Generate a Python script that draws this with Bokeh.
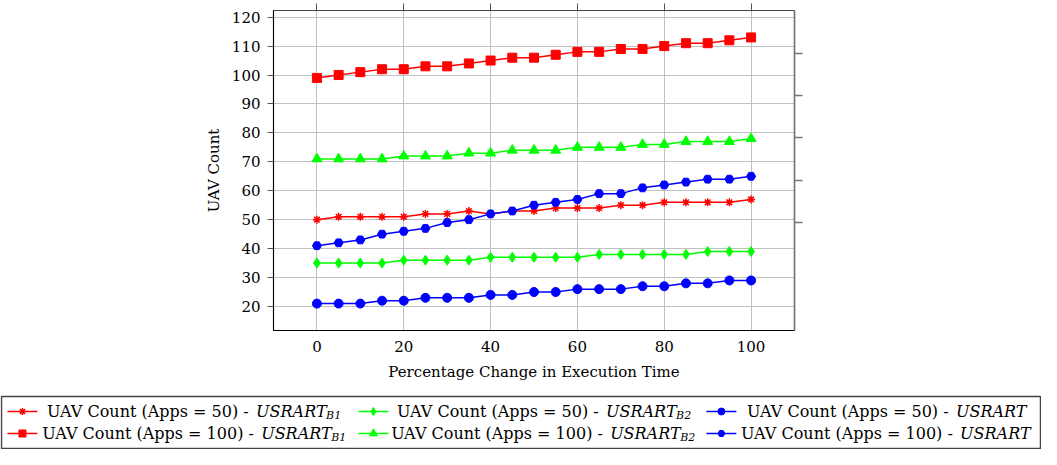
from bokeh.plotting import figure
from bokeh.models import Range1d, LinearAxis, FixedTicker, CustomJSTickFormatter
from bokeh.layouts import column
from bokeh.core.properties import value
from bokeh.embed import file_html
from bokeh.resources import INLINE

# ---------------- data ----------------
x_pct = [0, 5, 10, 15, 20, 25, 30, 35, 40, 45, 50, 55, 60, 65, 70, 75, 80, 85, 90, 95, 100]
uav50_b1 = [50, 51, 51, 51, 51, 52, 52, 53, 52, 53, 53, 54, 54, 54, 55, 55, 56, 56, 56, 56, 57]
uav50_b2 = [35, 35, 35, 35, 36, 36, 36, 36, 37, 37, 37, 37, 37, 38, 38, 38, 38, 38, 39, 39, 39]
uav50_usrart = [21, 21, 21, 22, 22, 23, 23, 23, 24, 24, 25, 25, 26, 26, 26, 27, 27, 28, 28, 29, 29]
uav100_b1 = [99, 100, 101, 102, 102, 103, 103, 104, 105, 106, 106, 107, 108, 108, 109, 109, 110, 111, 111, 112, 113]
uav100_b2 = [71, 71, 71, 71, 72, 72, 72, 73, 73, 74, 74, 74, 75, 75, 75, 76, 76, 77, 77, 77, 78]
uav100_usrart = [41, 42, 43, 45, 46, 47, 49, 50, 52, 53, 55, 56, 57, 59, 59, 61, 62, 63, 64, 64, 65]

x_ticks = [0, 20, 40, 60, 80, 100]
y_ticks = [20, 30, 40, 50, 60, 70, 80, 90, 100, 110, 120]

x_label = "Percentage Change in Execution Time"
y_label = "UAV Count"

label_main = ["UAV Count (Apps = 50) - ", "UAV Count (Apps = 100) - "]
label_ital = "USRART"
label_subs = ["B1", "B2", ""]

RED, GREEN, BLUE = "#ff0000", "#00ff00", "#0000ff"
FONT = "DejaVu Serif"

# (series, color, marker, size, row, col)
series = [
    (uav50_b1, RED, "asterisk", 8, 0, 0),
    (uav50_b2, GREEN, "diamond", 10, 0, 1),
    (uav50_usrart, BLUE, "circle", 9, 0, 2),
    (uav100_b1, RED, "square", 9, 1, 0),
    (uav100_b2, GREEN, "triangle", 10, 1, 1),
    (uav100_usrart, BLUE, "hex", 9, 1, 2),
]

# ---------------- main plot ----------------
W = 1041
MH = 392
p = figure(width=W, height=MH, x_range=Range1d(-10, 110), y_range=Range1d(11.7, 122.3),
           output_backend="svg", toolbar_location=None,
           min_border_left=273, min_border_right=247, min_border_top=10, min_border_bottom=62)
p.frame_align = False
p.background_fill_color = "white"
p.border_fill_color = "white"
p.outline_line_color = "#444444"
p.outline_line_width = 1.2

p.xaxis.ticker = FixedTicker(ticks=x_ticks)
p.yaxis.ticker = FixedTicker(ticks=y_ticks)
p.xgrid.ticker = FixedTicker(ticks=x_ticks)
p.ygrid.ticker = FixedTicker(ticks=y_ticks)
for g in (p.xgrid, p.ygrid):
    g.grid_line_color = "#c0c0c0"
    g.grid_line_width = 1

for ax in (p.xaxis, p.yaxis):
    ax.axis_line_color = "black"
    ax.major_label_text_font = FONT
    ax.major_label_text_font_size = "15px"
    ax.major_label_text_color = "black"
    ax.axis_label_text_font = FONT
    ax.axis_label_text_font_size = "15px"
    ax.axis_label_text_font_style = "normal"
    ax.axis_label_text_color = "black"
    ax.minor_tick_line_color = None
    ax.major_tick_in = 0

p.xaxis.axis_label = x_label
p.yaxis.axis_label = y_label
p.xaxis.major_tick_out = 0
p.xaxis.major_label_standoff = 10
p.xaxis.axis_label_standoff = 8
p.yaxis.major_tick_out = 6
p.yaxis.major_tick_line_color = "#555555"
p.yaxis.major_label_standoff = 7
p.yaxis.axis_label_standoff = 6

# unlabeled top axis with outward ticks
tax = LinearAxis(ticker=FixedTicker(ticks=x_ticks), formatter=CustomJSTickFormatter(code="return ''"))
tax.major_tick_out = 7
tax.major_tick_in = 0
tax.major_label_standoff = 0
tax.minor_tick_line_color = None
tax.major_tick_line_color = "#555555"
tax.axis_line_color = "#444444"
p.add_layout(tax, "above")

# odd unlabeled right-hand axis
p.extra_y_ranges = {"r": Range1d(start=320, end=0)}
rax = LinearAxis(y_range_name="r", ticker=FixedTicker(ticks=[43, 85, 127, 170, 212]),
                 formatter=CustomJSTickFormatter(code="return ''"))
rax.major_tick_out = 8
rax.major_tick_in = 0
rax.major_label_standoff = 0
rax.minor_tick_line_color = None
rax.major_tick_line_color = "#777777"
rax.major_tick_line_width = 1.5
rax.axis_line_color = "#777777"
rax.axis_line_width = 1.5
p.add_layout(rax, "right")

for ys, col, mk, sz, row, c in series:
    p.line(x_pct, ys, line_color=col, line_width=1.5)
    if mk == "asterisk":
        p.scatter(x_pct, ys, marker=mk, size=sz, line_color=col, line_width=1.5)
    else:
        p.scatter(x_pct, ys, marker=mk, size=sz, fill_color=col, line_color=col)

# ---------------- legend (drawn manually for sub-scripts) ----------------
LH = 57
lg = figure(width=W, height=LH, x_range=Range1d(0, W), y_range=Range1d(LH, 0),
            output_backend="svg", toolbar_location=None,
            min_border_left=0, min_border_right=0, min_border_top=0, min_border_bottom=0)
lg.frame_align = False
lg.axis.visible = False
lg.grid.visible = False
lg.outline_line_color = None
lg.background_fill_color = "white"
lg.border_fill_color = "white"

def fx(x):
    return 1 + (x - 7) * 1039.0 / 1048.0

lg.quad(left=[fx(7)], right=[fx(1055)], top=[4], bottom=[56],
        fill_color=None, line_color="#444444", line_width=1.5)

row_y = [19, 41]
line_start = [13, 367, 718]
text_start = [[53, 406, 759], [48, 400, 753]]
ital_off = [209, 219]
ital_w = 70

for ys, col, mk, sz, row, c in series:
    y = row_y[row]
    x0 = fx(line_start[c])
    lg.segment(x0=[x0], y0=[y], x1=[x0 + 30], y1=[y], line_color=col, line_width=1.5)
    msz = sz - 2 if mk != "asterisk" else 7
    if mk == "asterisk":
        lg.scatter([x0 + 15], [y], marker=mk, size=msz, line_color=col, line_width=1.5)
    else:
        lg.scatter([x0 + 15], [y], marker=mk, size=msz, fill_color=col, line_color=col)
    tx = fx(text_start[row][c])
    lg.text([tx], [y], text=[label_main[row]], text_font=value(FONT), text_font_size="16px",
            text_baseline="middle", text_align="left", text_color="black")
    ix = tx + ital_off[row]
    lg.text([ix], [y], text=[label_ital], text_font=value(FONT), text_font_size="16px",
            text_font_style="italic", text_baseline="middle", text_align="left", text_color="black")
    if label_subs[c]:
        lg.text([ix + ital_w], [y + 4], text=[label_subs[c]], text_font=value(FONT),
                text_font_size="11px", text_font_style="italic", text_baseline="middle",
                text_align="left", text_color="black")

layout = column(p, lg, spacing=0)
open("out.html", "w").write(file_html(layout, INLINE))
